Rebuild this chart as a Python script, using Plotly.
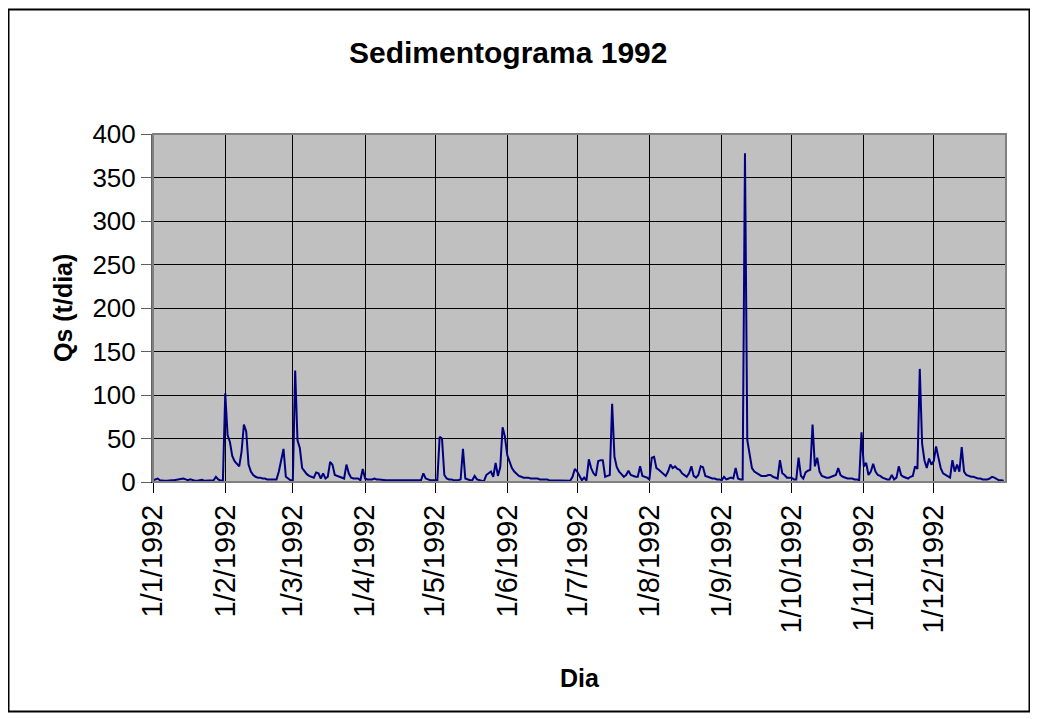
import pandas as pd
import plotly.graph_objects as go

# Daily sediment discharge Qs (t/dia), 1992 (leap year)
jan = [2, 3, 4, 2, 1.5, 1.5, 1.5, 2, 2, 2, 2.5, 3, 4, 4, 3, 2, 3, 2, 1.5, 1.5,
       2, 2.5, 1.5, 1.5, 1.5, 1.5, 2, 6, 3, 1.5, 2]
feb = [102, 54, 46, 30, 24, 21, 18, 35, 66, 58, 20, 12, 8, 6, 5, 5, 4, 4, 3, 3,
       3, 3, 3, 12, 24, 38, 6, 4, 2]
mar = [2, 128, 48, 39, 16, 12, 9, 7, 6, 5, 11, 10, 4, 10, 4, 6, 23, 20, 8, 7,
       6, 5, 4, 20, 10, 5, 4, 4, 4, 2, 15]
apr = [4, 3, 3, 3, 4, 3, 3, 2.5, 2.5, 2, 2, 2, 2, 2, 1.5, 1.5, 1.5, 1.5, 1.5, 1.5,
       1.5, 1.5, 1.5, 1.5, 2, 10, 4, 3, 2, 2]
may = [2, 2, 52, 50, 8, 4, 3, 3, 2, 2, 2, 3, 38, 4, 3, 2, 2, 7, 3, 2,
       1.5, 1, 8, 10, 12, 6, 22, 7, 17, 63, 52]
jun = [31, 22, 16, 12, 9, 7, 6, 5, 5, 5, 4, 4, 4, 4, 3, 3, 3, 3, 2, 2,
       2, 2, 2, 2, 1.5, 1.5, 1.5, 1.5, 6, 15]
jul = [12, 7, 2, 5, 1.5, 26, 16, 10, 7, 24, 25, 25, 6, 7, 8, 90, 29, 17, 12, 9,
       6, 8, 13, 8, 7, 6, 6, 18, 7, 6, 5]
aug = [3, 28, 29, 16, 14, 12, 10, 7, 12, 20, 16, 18, 15, 14, 10, 8, 6, 10, 18, 7,
       5, 8, 18, 17, 7, 6, 5, 4, 4, 3, 3]
sep = [2, 6, 3, 4, 5, 4, 16, 4, 3, 3, 378, 48, 29, 16, 12, 10, 8, 7, 7, 7,
       8, 8, 6, 5, 4, 25, 10, 8, 5, 5]
oct_ = [5, 3, 3, 28, 7, 4, 11, 13, 14, 66, 18, 28, 12, 7, 6, 5, 5, 6, 7, 8,
        16, 8, 6, 5, 4, 4, 4, 3, 3, 2, 57]
nov = [18, 22, 8, 12, 21, 12, 8, 7, 5, 4, 3, 3, 8, 3, 5, 18, 8, 6, 5, 4,
       6, 7, 18, 15, 130, 44, 25, 16, 27, 20]
dec = [24, 41, 28, 16, 10, 8, 6, 5, 25, 12, 20, 12, 40, 12, 8, 7, 6, 6, 5, 4,
       4, 3, 3, 3, 4, 6, 5, 3, 2, 2, 1.5]

qs = jan + feb + mar + apr + may + jun + jul + aug + sep + oct_ + nov + dec
dias = pd.date_range("1992-01-01", periods=len(qs), freq="D")

tick_dates = ["1992-01-01", "1992-02-01", "1992-03-01", "1992-04-01", "1992-05-01",
              "1992-06-01", "1992-07-01", "1992-08-01", "1992-09-01", "1992-10-01",
              "1992-11-01", "1992-12-01"]
tick_labels = ["1/1/1992", "1/2/1992", "1/3/1992", "1/4/1992", "1/5/1992", "1/6/1992",
               "1/7/1992", "1/8/1992", "1/9/1992", "1/10/1992", "1/11/1992", "1/12/1992"]
y_ticks = [0, 50, 100, 150, 200, 250, 300, 350, 400]

FONT = "Arial, 'Liberation Sans', sans-serif"

# page is offset by the 8px body margin; geometry below in page pixels
OFF = 8
L, R, T, B = 153, 1006, 134, 482
W, H = 1038 - OFF, 719 - OFF
pw, ph = R - L, B - T


def px(x):
    return (x - L) / pw


def py(y):
    return (B - y) / ph


fig = go.Figure()
fig.add_trace(go.Scatter(x=dias, y=qs, mode="lines",
                         line=dict(color="#000080", width=2),
                         hoverinfo="x+y", showlegend=False))

fig.update_layout(
    width=W, height=H,
    margin=dict(l=L - OFF, r=W - (R - OFF), t=T - OFF, b=H - (B - OFF), pad=0),
    paper_bgcolor="white",
    plot_bgcolor="#C0C0C0",
    font=dict(family=FONT, color="black"),
    xaxis=dict(
        type="date", range=["1992-01-01", "1993-01-01"],
        tickvals=tick_dates, ticktext=tick_labels, tickangle=-90,
        ticks="outside", ticklen=10, tickcolor="black", tickwidth=1,
        showgrid=True, gridcolor="black", gridwidth=1,
        showline=True, linecolor="black", linewidth=1,
        tickfont=dict(family=FONT, size=29, color="black"),
        zeroline=False, automargin=False,
    ),
    yaxis=dict(
        range=[0, 400], tickvals=y_ticks,
        ticks="outside", ticklen=10, tickcolor="#606060", tickwidth=1,
        showgrid=True, gridcolor="black", gridwidth=1,
        showline=True, linecolor="#606060", linewidth=2,
        tickfont=dict(family=FONT, size=26, color="black"),
        zeroline=False, automargin=False,
    ),
    shapes=[
        dict(type="rect", xref="paper", yref="paper", x0=0, x1=1, y0=0, y1=1,
             line=dict(color="#808080", width=2), layer="above"),
        dict(type="rect", xref="paper", yref="paper",
             x0=px(8.5), x1=px(1029.5), y0=py(711.5), y1=py(9.5),
             line=dict(color="black", width=2), layer="above"),
    ],
    annotations=[
        dict(text="<b>Sedimentograma 1992</b>", xref="paper", yref="paper",
             x=px(507.5), y=py(52), showarrow=False, xanchor="center", yanchor="middle",
             font=dict(family=FONT, size=30, color="black")),
        dict(text="<b>Qs (t/dia)</b>", xref="paper", yref="paper",
             x=px(63), y=py(308), showarrow=False, textangle=-90,
             xanchor="center", yanchor="middle",
             font=dict(family=FONT, size=25, color="black")),
        dict(text="<b>Dia</b>", xref="paper", yref="paper",
             x=px(580), y=py(678), showarrow=False, xanchor="center", yanchor="middle",
             font=dict(family=FONT, size=25, color="black")),
    ],
)

fig.write_html("out.html")
